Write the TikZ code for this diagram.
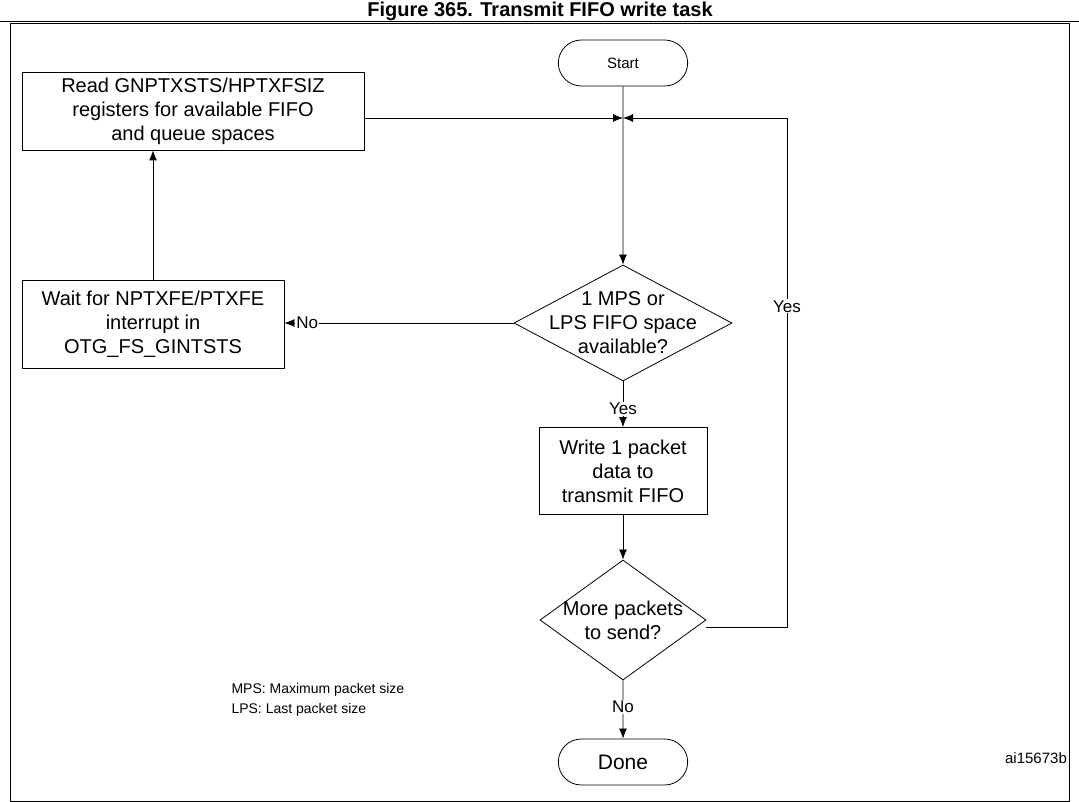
\documentclass[tikz,border=0pt]{standalone}
\usepackage{fontspec}
\setmainfont{Liberation Sans}
\usetikzlibrary{shapes.geometric,shapes.misc,arrows.meta}
\tikzset{
  box/.style={draw, thick, align=center, font=\fontsize{20}{24}\selectfont},
  term/.style={draw, thick, rounded rectangle, minimum width=136pt, minimum height=46pt},
  decision/.style={draw, thick, diamond, inner sep=0pt},
  dtext/.style={align=center, font=\fontsize{20}{24}\selectfont},
  flow/.style={thick, -{Latex[length=10pt,width=8pt]}},
  lab/.style={fill=white, inner sep=1pt, font=\fontsize{17}{20}\selectfont}
}
\begin{document}
\begin{tikzpicture}[x=1pt,y=-1pt]
    \useasboundingbox (0,0) rectangle (1079,802);
    % Titolo e cornice
    \node[font=\bfseries\fontsize{20}{24}\selectfont, anchor=base] (title) at (540,17) {Figure 365. Transmit FIFO write task};
    \draw[thick] (0,21) -- (1079,21);
    \draw[thick] (10,23) rectangle (1069,801);

    % Nodi
    \node[term, font=\fontsize{15}{18}\selectfont] (start) at (623,63) {Start};
    \node[box, minimum width=342pt, minimum height=78pt] (read) at (193,111)
        {Read GNPTXSTS/HPTXFSIZ\\registers for available FIFO\\and queue spaces};
    \coordinate (join) at (623,118);
    \node[decision, minimum width=218pt, minimum height=116pt] (space) at (623,323) {};
    \node[dtext] (spacetxt) at (space) {1 MPS or\\LPS FIFO space\\available?};
    \node[box, minimum width=262pt, minimum height=88pt] (wait) at (153,324)
        {Wait for NPTXFE/PTXFE\\interrupt in\\OTG\_FS\_GINTSTS};
    \node[box, minimum width=168pt, minimum height=87pt] (write) at (623,471)
        {Write 1 packet\\data to\\transmit FIFO};
    \node[decision, minimum width=166pt, minimum height=120pt] (more) at (623,620) {};
    \node[dtext] (moretxt) at (more) {More packets\\to send?};
    \node[term, font=\fontsize{21}{24}\selectfont] (done) at (623,762) {Done};
    \coordinate (loop) at (787,627);
    \coordinate (looptop) at (787,118);

    % Connettori
    \draw[flow] (read.east |- join) -- (join);
    \draw[flow] (start) -- (space);
    \draw[flow] (space.west) -- node[lab, pos=0.9] {No} (wait.east |- space.west);
    \draw[flow] (wait.north) -- (wait.north |- read.south);
    \draw[flow] (space) -- node[lab, pos=0.6] {Yes} (write);
    \draw[flow] (write) -- (more);
    \draw[flow] (more) -- node[lab, pos=0.45] {No} (done);
    \draw[flow] (more.east |- loop) -- (loop) -- node[lab, pos=0.63] {Yes} (looptop) -- (join);

    % Note
    \node[anchor=west, align=left, font=\fontsize{14}{20}\selectfont] (notes) at (228,700)
        {MPS: Maximum packet size\\LPS: Last packet size};
    \node[font=\fontsize{15}{18}\selectfont] (ref) at (1036,758) {ai15673b};
\end{tikzpicture}
\end{document}
